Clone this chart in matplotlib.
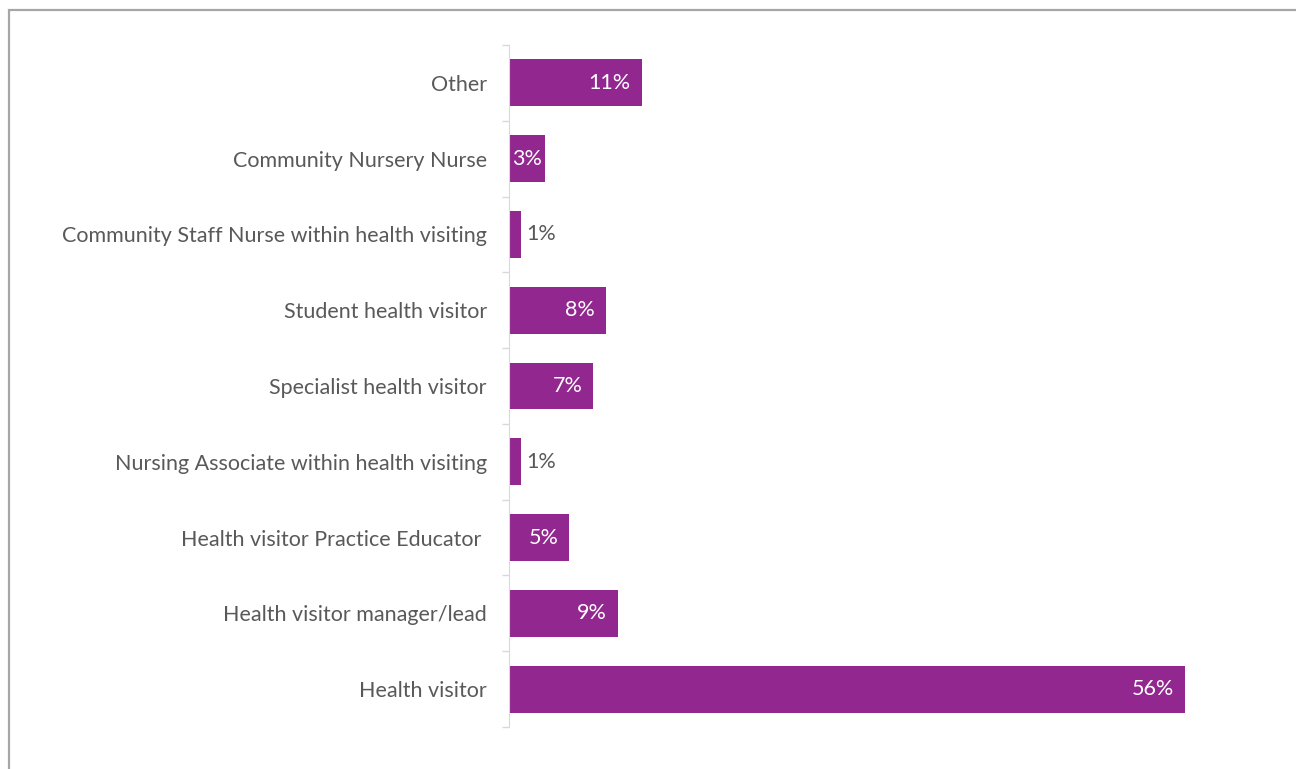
import matplotlib.pyplot as plt
from matplotlib.patches import Rectangle
import numpy as np

roles = ['Health visitor', 'Health visitor manager/lead', 'Health visitor Practice Educator ',
         'Nursing Associate within health visiting', 'Specialist health visitor',
         'Student health visitor', 'Community Staff Nurse within health visiting',
         'Community Nursery Nurse', 'Other']
share = [56, 9, 5, 1, 7, 8, 1, 3, 11]

purple = '#92278F'
grey_text = '#595959'

plt.rcParams['font.family'] = ['Lato', 'DejaVu Sans']

fig = plt.figure(figsize=(12.96, 7.69), dpi=100)
ax = fig.add_axes([509 / 1296, 1 - 727 / 769, (1233 - 509) / 1296, (727 - 45) / 769])

y = np.arange(len(roles))
bars = ax.barh(y, share, height=0.62, color=purple)

for b, v in zip(bars, share):
    yc = b.get_y() + b.get_height() / 2
    if v >= 4:
        ax.text(v - 0.9, yc, f'{v}%', ha='right', va='center', color='white', fontsize=15.5)
    elif v >= 2:
        ax.text(v / 2, yc, f'{v}%', ha='center', va='center', color='white', fontsize=15.5)
    else:
        ax.text(v + 0.4, yc, f'{v}%', ha='left', va='center', color=grey_text, fontsize=15.5)

ax.set_xlim(0, 60)
ax.set_ylim(-0.5, len(roles) - 0.5)
ax.set_yticks(y)
ax.set_yticklabels(roles, fontsize=15.5, color=grey_text)
ax.set_yticks(np.arange(-0.5, len(roles)), minor=True)
ax.tick_params(axis='y', which='major', length=0, pad=16)
ax.tick_params(axis='y', which='minor', length=5, color='#D9D9D9', width=1)
ax.set_xticks([])
for side in ['top', 'right', 'bottom']:
    ax.spines[side].set_visible(False)
ax.spines['left'].set_color('#D9D9D9')

# outer chart frame, running off the right and bottom edges
fig.patches.append(Rectangle((9 / 1296, -0.05), 1.1, 1 - 10 / 769 + 0.05,
                             transform=fig.transFigure, fill=False,
                             edgecolor='#A6A6A6', linewidth=1.6))

fig.savefig('out.png', dpi=100)
